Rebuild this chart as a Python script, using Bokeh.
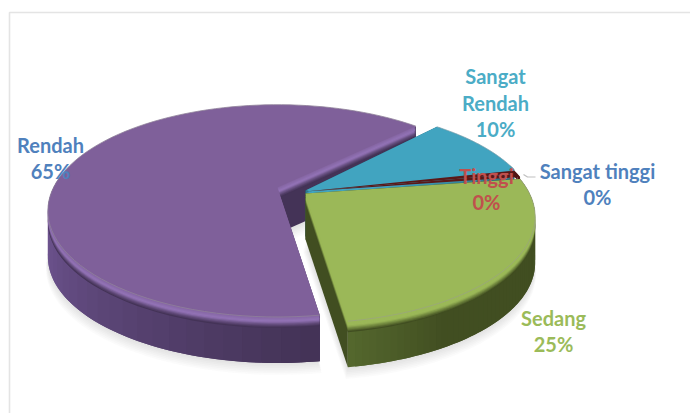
import math
from bokeh.plotting import figure
from bokeh.embed import file_html
from bokeh.resources import INLINE
from bokeh.core.properties import value as bv

categories = ["Rendah", "Sedang", "Tinggi", "Sangat tinggi", "Sangat Rendah"]
values = [65, 25, 0, 0, 9.6]
top_colors = ["#7F609A", "#9BB858", "#C0504D", "#4F81BD", "#41A4C0"]
side_light = ["#6F5592", "#55682E", "#5A1A1A", "#4A1616", "#2F7A90"]
side_dark = ["#443357", "#414E21", "#4E1414", "#4E1414", "#256070"]
highlight = ["#9474B8", "#9BB858", "#7A2020", "#7A2020", "#41A4C0"]
label_colors = ["#4F81BD", "#9BBB59", "#C0504D", "#4F81BD", "#4BACC6"]

START_ANGLE = 44.5        # degrees, anticlockwise from east
MIN_SWEEP = 2.0           # zero slices stay visible as a thin sliver
APEX = [(277, 187), (305, 193), (305, 191), (305, 191), (305, 190)]
RX, RY, K, DEPTH = 224.0, 101.0, 0.22, 46.0

W, H = 690, 413
OX, OY = 0, 0
p = figure(width=W, height=H, x_range=(OX, OX + W), y_range=(OY + H, OY),
           output_backend="svg", toolbar_location=None, min_border=0)
p.axis.visible = False
p.grid.visible = False
p.outline_line_color = None
p.background_fill_color = "white"


def hex2rgb(c):
    return tuple(int(c[i:i + 2], 16) for i in (1, 3, 5))


def mix(a, b, t):
    ra, rb = hex2rgb(a), hex2rgb(b)
    return "#%02x%02x%02x" % tuple(round(x + (y - x) * t) for x, y in zip(ra, rb))


def project(apex, deg, r=1.0):
    a = math.radians(deg)
    X, Y = r * math.cos(a), -r * math.sin(a)
    w = 1 - K * Y
    return apex[0] + RX * X / w, apex[1] + RY * Y / w


def arc(apex, a0, a1, n=90):
    return [project(apex, a0 + (a1 - a0) * i / n) for i in range(n + 1)]


# sweep of every slice, walking clockwise round the pie from the start angle
sweeps = [v / 100 * 360 if v else MIN_SWEEP for v in values]
spans = []
cur = START_ANGLE + sweeps[0]
spans.append((START_ANGLE, cur))
for s in sweeps[1:]:
    spans.append((cur, cur + s))
    cur += s

# frame of the chart area
p.line([OX + W, 9, 9], [12, 12, OY + H], line_color="#E4E4E4", line_width=1.6)

# soft shadow below the solid
for i in range(1, 8):
    for k in (0, 1):
        a0, a1 = spans[k]
        pts = [APEX[k]] + arc(APEX[k], a0, a1)
        cx = sum(q[0] for q in pts) / len(pts)
        p.patch([cx + (q[0] - cx) * (1 + i * 0.002) for q in pts],
                [q[1] + DEPTH + i * 1.7 for q in pts],
                fill_color="#808080", fill_alpha=0.035, line_color=None)


def draw_slice(k):
    a0, a1 = spans[k]
    apex = APEX[k]
    e0, e1 = project(apex, a0), project(apex, a1)
    # cut faces
    for e in (e0, e1):
        p.patch([apex[0], e[0], e[0], apex[0]],
                [apex[1], e[1], e[1] + DEPTH, apex[1] + DEPTH],
                fill_color=side_dark[k], line_color=None)
    # outer rim, shaded strip by strip along the arc; each strip overlaps the next
    n = 60
    step = (a1 - a0) / n
    for i in range(n):
        b0 = a0 + step * i
        b1 = min(a1, b0 + 2 * step)
        mid = (b0 + step / 2) % 360
        if 15 < mid < 170:
            continue
        if k == 0:
            t = min(1, max(0, (mid - 190) / 85))
        else:
            t = min(1, abs(((mid + 180) % 360 - 180) - (-82)) / 22)
        q = arc(apex, b0, b1, 3)
        c = mix(side_light[k], side_dark[k], t)
        p.patch([r[0] for r in q] + [r[0] for r in reversed(q)],
                [r[1] for r in q] + [r[1] + DEPTH for r in reversed(q)],
                fill_color=c, line_color=None)
    # bevel between the rim and the top face
    top = [apex] + arc(apex, a0, a1)
    steps = 10
    for s in range(steps, 0, -1):
        t = s / steps
        base = mix(top_colors[k], highlight[k], 1 - abs(t - 0.45) / 0.55)
        c = mix(base, side_dark[k], max(0, t - 0.45) / 0.55)
        p.patch([q[0] for q in top], [q[1] + s * 1.1 for q in top],
                fill_color=c, line_color=None)
    p.patch([q[0] for q in top], [q[1] for q in top],
            fill_color=top_colors[k], line_color=None)
    p.line([q[0] for q in top[1:]], [q[1] for q in top[1:]],
           line_color=mix(top_colors[k], "#999999", 0.6), line_width=0.8)


draw_slice(0)
draw_slice(4)
for k in (2, 3):
    a0, a1 = spans[k]
    apex = APEX[k]
    pts = [apex] + arc(apex, a0, a1, 8)
    p.patch([q[0] for q in pts], [q[1] for q in pts], fill_color="#5A1818", line_color=None)
    p.patch([pts[-1][0], pts[1][0], pts[1][0], pts[-1][0]],
            [pts[-1][1], pts[1][1], pts[1][1] + 6, pts[-1][1] + 6],
            fill_color="#4E1414", line_color=None)
draw_slice(1)

# leader of "Sangat tinggi"
p.line([523, 527, 535], [174, 176.5, 176.5], line_color="#BFBFBF", line_width=1.2)

# labels
label_x = [50, 553, 486, 597, 495]
label_y = [[144, 170], [317, 343], [175, 201], [170, 196], [75, 102, 128]]
label_text = [["Rendah", "65%"], ["Sedang", "25%"], ["Tinggi", "0%"],
              ["Sangat tinggi", "0%"], ["Sangat", "Rendah", "10%"]]
for k in range(len(categories)):
    for t, y in zip(label_text[k], label_y[k]):
        p.text([label_x[k]], [y], text=[t], text_color=label_colors[k],
               text_font=bv("Lato"), text_font_style="bold", text_font_size="20px",
               text_align="center", text_baseline="middle")

open("out.html", "w").write(file_html(p, INLINE))
